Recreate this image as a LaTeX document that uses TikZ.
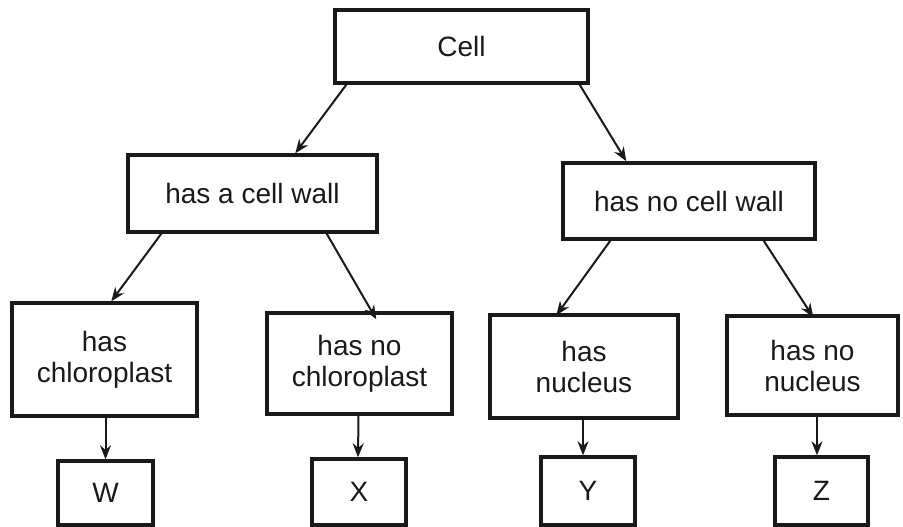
\documentclass[tikz,border=0pt]{standalone}
\usepackage{fontspec}
\setmainfont{Liberation Sans}
\usetikzlibrary{arrows.meta}
\begin{document}
\begin{tikzpicture}[x=1pt,y=-1pt,
  box/.style={draw=black!90, line width=3.4pt, inner sep=0pt, align=center,
    font=\fontsize{28}{31}\selectfont, text=black!90},
  arr/.style={line width=2pt, draw=black!90, -{Stealth[length=14pt,width=11pt]}}]
\useasboundingbox (0,0) rectangle (903,527);
\node[box, minimum width=253pt, minimum height=73pt] (cell) at (461.5,46.5) {Cell};
\node[box, minimum width=249pt, minimum height=77pt] (wall) at (252.5,193.5) {has a cell wall};
\node[box, minimum width=252pt, minimum height=76pt] (nowall) at (689,201) {has no cell wall};
\node[box, minimum width=185pt, minimum height=113pt] (chl) at (104.5,359.5) {has\\chloroplast};
\node[box, minimum width=185pt, minimum height=101pt] (nochl) at (359.5,363.5) {has no\\chloroplast};
\node[box, minimum width=188pt, minimum height=103pt] (nuc) at (584,366.5) {has\\nucleus};
\node[box, minimum width=171pt, minimum height=99pt] (nonuc) at (812.5,365.5) {has no\\nucleus};
\node[box, minimum width=95pt, minimum height=64pt] (w) at (105.5,493) {W};
\node[box, minimum width=94pt, minimum height=66pt] (x) at (359,492) {X};
\node[box, minimum width=94pt, minimum height=68pt] (y) at (588,491) {Y};
\node[box, minimum width=93pt, minimum height=68pt] (z) at (821.5,491) {Z};
\draw[arr] ([xshift=13pt]cell.south west) -- ([xshift=169pt]wall.north west);
\draw[arr] ([xshift=-10pt]cell.south east) -- ([xshift=65pt]nowall.north west);
\draw[arr] ([xshift=35pt]wall.south west) -- ([xshift=101pt]chl.north west);
\draw[arr] ([xshift=-52pt]wall.south east) -- ([xshift=111pt,yshift=-8pt]nochl.north west);
\draw[arr] ([xshift=49pt]nowall.south west) -- ([xshift=68pt,yshift=-2pt]nuc.north west);
\draw[arr] ([xshift=-53pt]nowall.south east) -- ([xshift=88pt,yshift=-3pt]nonuc.north west);
\draw[arr] (chl.south -| w.north) -- (w.north);
\draw[arr] ([xshift=-1pt]nochl.south) -- ([xshift=-1pt]x.north);
\draw[arr] ([xshift=-5pt]y.north |- nuc.south) -- ([xshift=-5pt]y.north);
\draw[arr] ([xshift=-4.5pt]z.north |- nonuc.south) -- ([xshift=-4.5pt]z.north);
\end{tikzpicture}
\end{document}
